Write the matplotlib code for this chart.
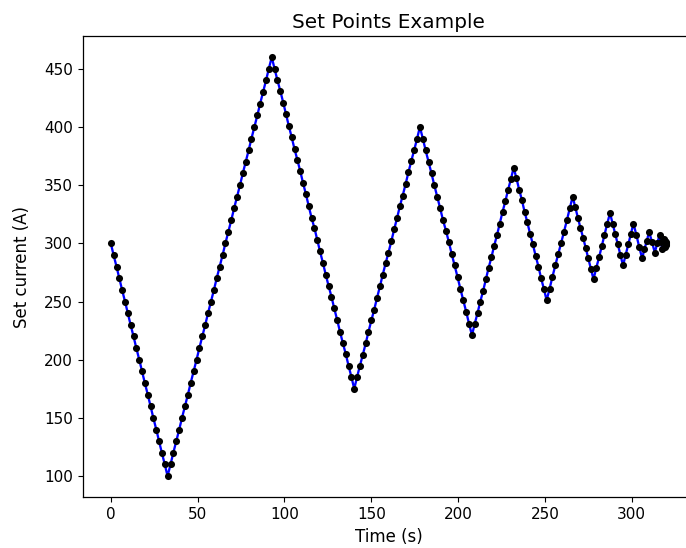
import numpy as np
import matplotlib
matplotlib.use("Agg")
import matplotlib.pyplot as plt

# Set point times (s), one row per ramp
time_s = [
    0, 1.6, 3.3, 4.9, 6.5, 8.2, 9.8, 11.4, 13.1, 14.7, 16.4, 18.0, 19.6, 21.3, 22.9, 24.5, 26.2, 27.8, 29.4, 31.1, 32.7,
    34.4, 36.0, 37.7, 39.4, 41.0, 42.7, 44.4, 46.0, 47.7, 49.4, 51.0, 52.7, 54.4, 56.0, 57.7, 59.4, 61.0, 62.7,
    64.4, 66.0, 67.7, 69.4, 71.0, 72.7, 74.4, 76.0, 77.7, 79.4, 81.0, 82.7, 84.4, 86.0, 87.7, 89.4, 91.0, 92.7,
    94.3, 96.0, 97.6, 99.3, 100.9, 102.5, 104.2, 105.8, 107.4, 109.1, 110.7, 112.4, 114.0, 115.6, 117.3,
    118.9, 120.5, 122.2, 123.8, 125.5, 127.1, 128.7, 130.4, 132.0, 133.7, 135.3, 136.9, 138.6, 140.2,
    141.8, 143.5, 145.1, 146.8, 148.4, 150.1, 151.7, 153.3, 155.0, 156.6, 158.3, 159.9, 161.6, 163.2,
    164.9, 166.5, 168.1, 169.8, 171.4, 173.1, 174.7, 176.4, 178.0,
    179.7, 181.3, 183.0, 184.7, 186.3, 188.0, 189.7, 191.3, 193.0, 194.7, 196.3, 198.0, 199.7, 201.3,
    203.0, 204.7, 206.3, 208.0,
    209.6, 211.2, 212.8, 214.4, 216.0, 217.6, 219.2, 220.8, 222.4, 224.0, 225.6, 227.2, 228.8, 230.4, 232.0,
    233.6, 235.2, 236.8, 238.3, 239.9, 241.5, 243.1, 244.7, 246.3, 247.8, 249.4, 251.0,
    252.7, 254.3, 256.0, 257.7, 259.3, 261.0, 262.7, 264.3, 266.0,
    267.5, 269.0, 270.5, 272.0, 273.5, 275.0, 276.5, 278.0,
    279.6, 281.2, 282.8, 284.3, 285.9, 287.5,
    289.0, 290.5, 292.0, 293.5, 295.0,
    296.5, 298.0, 299.5, 301.0,
    302.7, 304.3, 306.0,
    307.3, 308.7, 310.0,
    311.7, 313.3,
    314.7, 316.0,
    316.9, 317.6,
    318.5, 319.0, 319.4, 319.7, 319.85, 319.95, 320.0,
]

# Set current (A) at each of those times
current_a = [
    300, 290, 280, 270, 260, 250, 240, 230, 220, 210, 200, 190, 180, 170, 160, 150, 140, 130, 120, 110, 100,
    110, 120, 130, 140, 150, 160, 170, 180, 190, 200, 210, 220, 230, 240, 250, 260, 270, 280,
    290, 300, 310, 320, 330, 340, 350, 360, 370, 380, 390, 400, 410, 420, 430, 440, 450, 460,
    450, 440, 431, 421, 411, 401, 391, 381, 372, 362, 352, 342, 332, 322, 313,
    303, 293, 283, 273, 263, 254, 244, 234, 224, 214, 205, 195, 185, 175,
    185, 195, 204, 214, 224, 234, 243, 253, 263, 273, 283, 292, 302, 312,
    322, 332, 341, 351, 361, 371, 380, 390, 400,
    390, 380, 370, 360, 350, 340, 330, 320, 311, 301, 291, 281, 271, 261,
    251, 241, 231, 221,
    231, 240, 250, 259, 269, 279, 288, 298, 307, 317, 327, 336, 346, 355, 365,
    356, 346, 337, 327, 318, 308, 299, 289, 280, 270, 261, 251,
    261, 271, 281, 291, 300, 310, 320, 330, 340,
    331, 322, 313, 305, 296, 287, 278, 269,
    279, 288, 298, 307, 317, 326,
    317, 308, 299, 290, 281,
    290, 299, 308, 317,
    307, 297, 287,
    295, 302, 310,
    301, 292,
    300, 307,
    301, 295,
    304, 297, 302, 298.5, 301, 299.5, 300.5,
]

t = np.array(time_s)
i_set = np.array(current_a)

plt.rcParams['xtick.labelsize'] = 11
plt.rcParams['ytick.labelsize'] = 11
plt.rcParams['xtick.major.size'] = 3.85
plt.rcParams['ytick.major.size'] = 3.85
plt.rcParams['axes.linewidth'] = 0.9

fig = plt.figure(figsize=(6.86, 5.48), dpi=100)
# axes runs just past the right edge, the reference is cut off there
ax = fig.add_axes([0.121, 0.093, 0.891, 0.841])

ax.plot(t, i_set, color='blue', linewidth=1.65)
ax.plot(t, i_set, 'o', color='black', markersize=5.1, markeredgewidth=0)

ax.set_title('Set Points Example', fontsize=14.4)
ax.set_xlabel('Time (s)', fontsize=12)
ax.set_ylabel('Set current (A)', fontsize=12, labelpad=9)

fig.savefig('out.png', dpi=100)
